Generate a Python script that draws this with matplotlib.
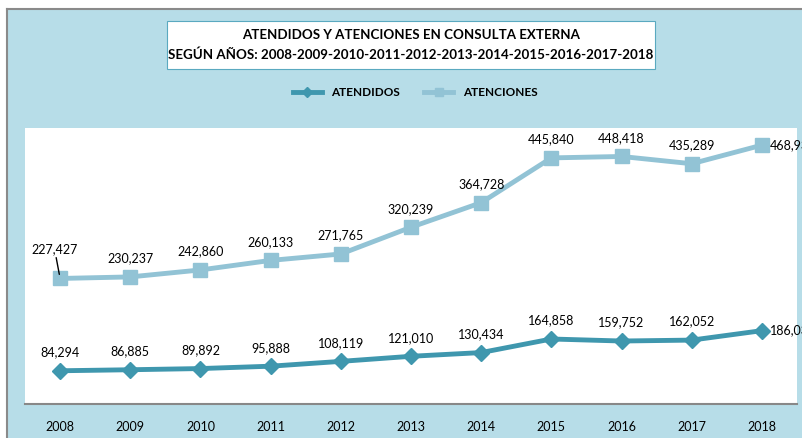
import matplotlib.pyplot as plt
from matplotlib.patches import Rectangle

anios = ['2008', '2009', '2010', '2011', '2012', '2013', '2014', '2015', '2016', '2017', '2018']
atendidos = [84294, 86885, 89892, 95888, 108119, 121010, 130434, 164858, 159752, 162052, 186030]
atenciones = [227427, 230237, 242860, 260133, 271765, 320239, 364728, 445840, 448418, 435289, 468935]

W, H = 802, 438
fondo = '#b7dde8'
c_atendidos = '#3f97ae'
c_atenciones = '#92c3d5'
plt.rcParams['font.family'] = ['Lato', 'DejaVu Sans']

fig = plt.figure(figsize=(W / 100, H / 100), dpi=100)
fig.patch.set_facecolor('white')

def fx(px):
    return px / W

def fy(py):
    return 1 - py / H

# fondo celeste con borde gris
fig.patches.append(Rectangle((fx(8), 0), 1 - fx(8), fy(10), transform=fig.transFigure,
                             facecolor=fondo, edgecolor='none', zorder=-5))
fig.add_artist(plt.Line2D([fx(7), fx(7)], [0, fy(9)], transform=fig.transFigure, color='#8a8a8a', lw=1.5))
fig.add_artist(plt.Line2D([fx(7), 1], [fy(9), fy(9)], transform=fig.transFigure, color='#8a8a8a', lw=1.5))

# caja del titulo
fig.patches.append(Rectangle((fx(167), fy(69)), fx(655 - 167), (69 - 21) / H, transform=fig.transFigure,
                             facecolor='white', edgecolor='#5aa9c0', lw=0.8, zorder=1))
fig.text(fx(411), fy(35), 'ATENDIDOS Y ATENCIONES EN CONSULTA EXTERNA', ha='center', va='center',
         fontsize=9.6, fontweight='bold', zorder=2)
fig.text(fx(411), fy(55), 'SEGÚN AÑOS: 2008-2009-2010-2011-2012-2013-2014-2015-2016-2017-2018',
         ha='center', va='center', fontsize=9.6, fontweight='bold', zorder=2)

ax = fig.add_axes([fx(25), fy(404), fx(797 - 25), (404 - 128) / H])
ax.set_facecolor('white')
x = list(range(len(anios)))
l1, = ax.plot(x, atendidos, color=c_atendidos, lw=3.5, marker='D', markersize=8, zorder=3)
ax.set_ylim(0, 700000)
ax.set_xlim(-0.5, len(anios) - 0.5)
ax.set_xticks(x)
ax.set_xticklabels(anios, fontsize=9)
ax.tick_params(axis='x', length=0, pad=12)
ax.set_yticks([])
for s in ['top', 'right', 'left']:
    ax.spines[s].set_visible(False)
ax.spines['bottom'].set_color('#888888')
ax.spines['bottom'].set_linewidth(1.5)

ax2 = ax.twinx()
l2, = ax2.plot(x, atenciones, color=c_atenciones, lw=3.5, marker='s', markersize=10, zorder=3)
ax2.set_ylim(0, 500000)
ax2.set_yticks([])
for s in ['top', 'right', 'left', 'bottom']:
    ax2.spines[s].set_visible(False)

for i, v in enumerate(atendidos):
    if i == len(anios) - 1:
        ax.annotate(f'{v:,}', (i, v), xytext=(6, 0), textcoords='offset points',
                    ha='left', va='center', fontsize=9)
    else:
        ax.annotate(f'{v:,}', (i, v), xytext=(0, 9), textcoords='offset points',
                    ha='center', va='bottom', fontsize=9)

for i, v in enumerate(atenciones):
    if i == 0:
        ax2.annotate(f'{v:,}', (i, v), xytext=(-4, 17), textcoords='offset points',
                     ha='center', va='bottom', fontsize=9,
                     arrowprops=dict(arrowstyle='-', color='black', lw=1, shrinkA=0, shrinkB=3))
    elif i == len(anios) - 1:
        ax2.annotate(f'{v:,}', (i, v), xytext=(6, 0), textcoords='offset points',
                     ha='left', va='center', fontsize=9)
    else:
        ax2.annotate(f'{v:,}', (i, v), xytext=(0, 9), textcoords='offset points',
                     ha='center', va='bottom', fontsize=9)

fig.legend([l1, l2], ['ATENDIDOS', 'ATENCIONES'], loc='center', bbox_to_anchor=(fx(415), fy(93)),
           ncol=2, frameon=False, handlelength=2.5, columnspacing=2,
           prop={'weight': 'bold', 'size': 8.5}, markerscale=0.6)

fig.savefig('out.png', dpi=100, facecolor=fig.get_facecolor())
